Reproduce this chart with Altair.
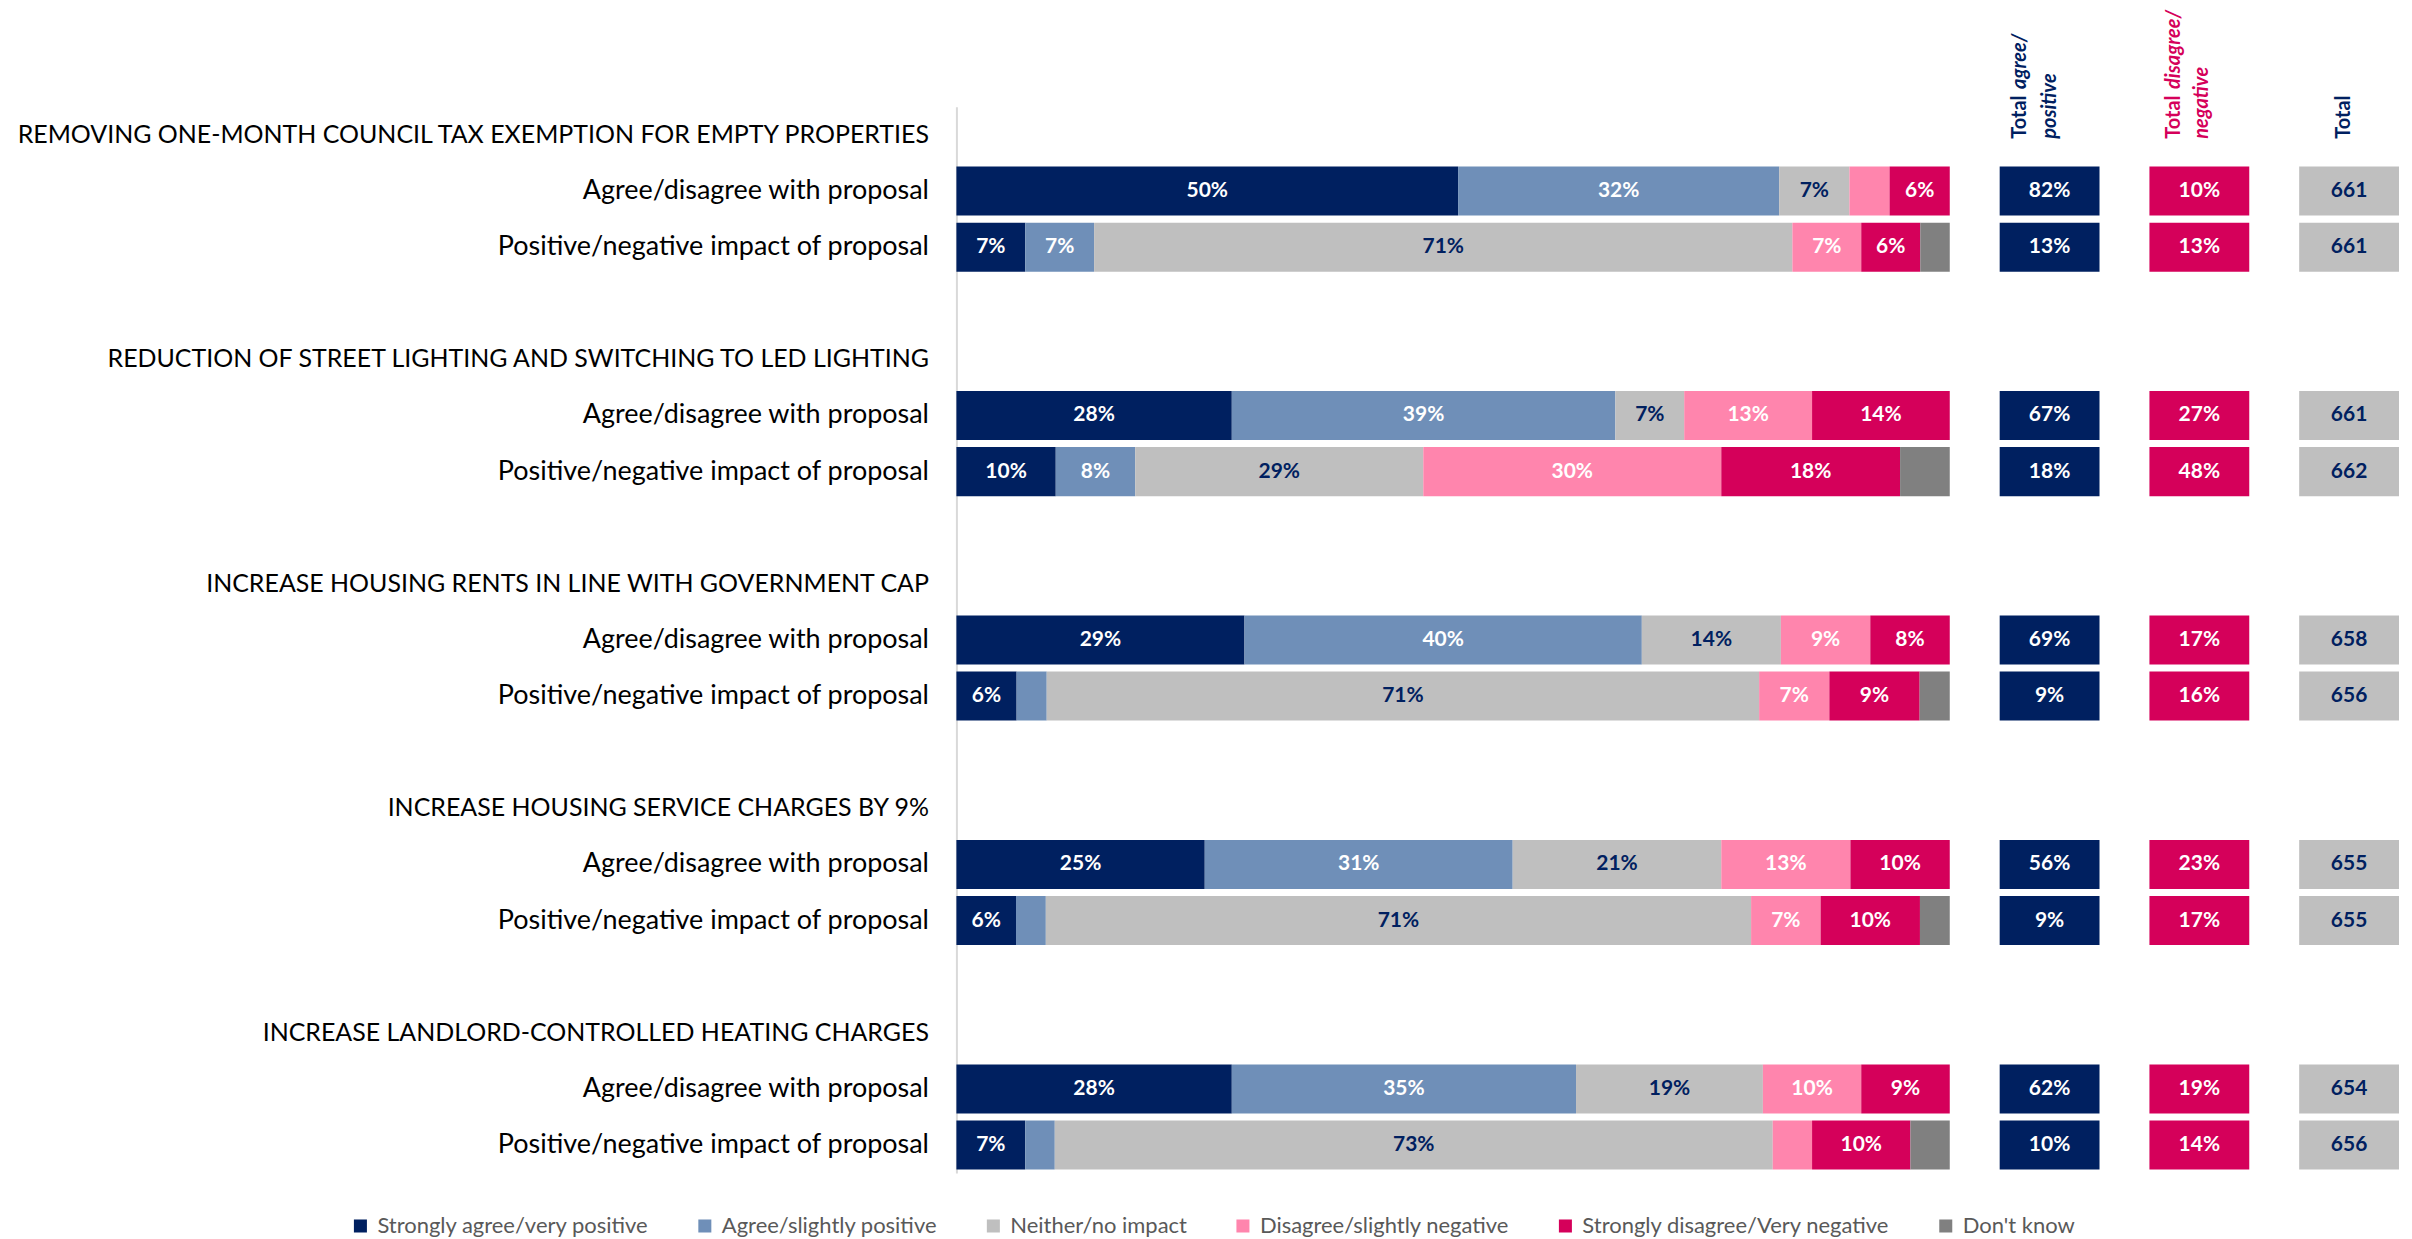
import altair as alt
import pandas as pd

groups = [
    "REMOVING ONE-MONTH COUNCIL TAX EXEMPTION FOR EMPTY PROPERTIES",
    "REDUCTION OF STREET LIGHTING AND SWITCHING TO LED LIGHTING",
    "INCREASE HOUSING RENTS IN LINE WITH GOVERNMENT CAP",
    "INCREASE HOUSING SERVICE CHARGES BY 9%",
    "INCREASE LANDLORD-CONTROLLED HEATING CHARGES",
]
measures = ["Agree/disagree with proposal", "Positive/negative impact of proposal"]
categories = [
    "Strongly agree/very positive",
    "Agree/slightly positive",
    "Neither/no impact",
    "Disagree/slightly negative",
    "Strongly disagree/Very negative",
    "Don't know",
]
colors = ["#002060", "#6F8FB8", "#BFBFBF", "#FF85AD", "#D5005A", "#808080"]

# one value per row: group1 agree, group1 impact, group2 agree, ...
strongly_agree = [50, 7, 28, 10, 29, 6, 25, 6, 28, 7]
agree = [32, 7, 39, 8, 40, 3, 31, 3, 35, 3]
neither = [7, 71, 7, 29, 14, 71, 21, 71, 19, 73]
disagree = [4, 7, 13, 30, 9, 7, 13, 7, 10, 4]
strongly_disagree = [6, 6, 14, 18, 8, 9, 10, 10, 9, 10]
dont_know = [0, 3, 0, 5, 0, 3, 0, 3, 0, 4]

total_agree = [82, 13, 67, 18, 69, 9, 56, 9, 62, 10]
total_disagree = [10, 13, 27, 48, 17, 16, 23, 17, 19, 14]
total_n = [661, 661, 661, 662, 658, 656, 655, 655, 654, 656]

header_total = "Total"
header_agree = ["agree/", "positive"]
header_disagree = ["disagree/", "negative"]

NAVY = "#002060"
CRIMSON = "#D5005A"
FONT = "Lato"

series = [strongly_agree, agree, neither, disagree, strongly_disagree, dont_know]

row_keys = []
row_order = []
for i, g in enumerate(groups):
    row_order.append(g)
    for m in measures:
        key = g + "|" + m
        row_keys.append(key)
        row_order.append(key)
    if i < len(groups) - 1:
        row_order.append("__blank%d" % i)

records = []
for k, key in enumerate(row_keys):
    for c, cat in enumerate(categories):
        records.append({"row": key, "category": cat, "order": c, "value": series[c][k]})
df = pd.DataFrame(records)

tot = pd.DataFrame({
    "row": row_keys,
    "agree": total_agree,
    "disagree": total_disagree,
    "n": total_n,
})

ROW_H = 1068
yscale = alt.Scale(domain=row_order, paddingInner=0.126, paddingOuter=0.063)

label_expr = ("indexof(datum.label,'|')>=0 ? split(datum.label,'|')[1] : "
              "(indexof(datum.label,'__blank')==0 ? '' : datum.label)")

y_axis = alt.Axis(
    title=None, labelExpr=label_expr, labelFont=FONT,
    labelFontSize={"condition": {"test": "indexof(datum.label,'|')>=0", "value": 27}, "value": 25},
    labelColor="#000000", labelPadding=28, ticks=False, domain=True,
    domainColor="#D9D9D9", domainWidth=2, labelLimit=1200,
)

base = (
    alt.Chart(df)
    .transform_joinaggregate(rowtotal="sum(value)", groupby=["row"])
    .transform_calculate(pct="datum.value / datum.rowtotal")
    .transform_stack(stack="pct", groupby=["row"], as_=["x0", "x1"],
                     sort=[alt.SortField("order", order="ascending")])
    .transform_calculate(xm="(datum.x0 + datum.x1) / 2")
)

bars = base.mark_bar().encode(
    x=alt.X("x0:Q", scale=alt.Scale(domain=[0, 1]), axis=None),
    x2="x1:Q",
    y=alt.Y("row:N", scale=yscale, axis=y_axis, sort=row_order),
    color=alt.Color(
        "category:N",
        scale=alt.Scale(domain=categories, range=colors),
        legend=alt.Legend(
            title=None, orient="none", direction="horizontal",
            legendX=-608, legendY=1110,
            symbolType="square", symbolSize=170, symbolStrokeWidth=0,
            labelFont=FONT, labelFontSize=22, labelColor="#595959",
            columnPadding=45, labelOffset=6, labelLimit=500,
        ),
    ),
    order=alt.Order("order:Q"),
)

labels = base.transform_filter(
    "datum.value >= 6 && datum.category != \"Don't know\""
).transform_calculate(lab="datum.value + '%'").mark_text(
    font=FONT, fontSize=21, fontWeight="bold", baseline="middle", align="center"
).encode(
    x=alt.X("xm:Q", scale=alt.Scale(domain=[0, 1]), axis=None),
    y=alt.Y("row:N", scale=yscale, axis=y_axis, sort=row_order),
    text="lab:N",
    color=alt.condition("datum.category == 'Neither/no impact'", alt.value(NAVY), alt.value("white")),
)

main = alt.layer(bars, labels).properties(width=995, height=ROW_H)


def box_panel(field, fill, txtcol, fmt_pct, headers):
    b = alt.Chart(tot).mark_bar(color=fill).encode(
        x=alt.value(0), x2=alt.value(100),
        y=alt.Y("row:N", scale=yscale, axis=None, sort=row_order),
    )
    expr = "datum.%s + '%%'" % field if fmt_pct else "'' + datum.%s" % field
    t = alt.Chart(tot).transform_calculate(lab=expr).mark_text(
        font=FONT, fontSize=21, fontWeight="bold", color=txtcol
    ).encode(
        x=alt.value(50),
        y=alt.Y("row:N", scale=yscale, axis=None, sort=row_order),
        text="lab:N",
    )
    layers = [b, t]
    for (txt, xx, yy, italic, col) in headers:
        hdf = pd.DataFrame({"t": [txt]})
        kw = dict(font=FONT, fontSize=20, fontWeight="bold", angle=270,
                  align="left", baseline="middle", color=col)
        if italic:
            kw["fontStyle"] = "italic"
        layers.append(
            alt.Chart(hdf).mark_text(**kw).encode(
                x=alt.value(xx), y=alt.value(yy), text="t:N"
            )
        )
    return alt.layer(*layers).properties(width=100, height=ROW_H)


p_agree = box_panel("agree", NAVY, "white", True, [
    (header_total, 20, 32, False, NAVY),
    (header_agree[0], 20, -18, True, NAVY),
    (header_agree[1], 50, 32, True, NAVY),
])
p_dis = box_panel("disagree", CRIMSON, "white", True, [
    (header_total, 25, 32, False, CRIMSON),
    (header_disagree[0], 25, -18, True, CRIMSON),
    (header_disagree[1], 53, 32, True, CRIMSON),
])
p_n = box_panel("n", "#BFBFBF", NAVY, False, [
    (header_total, 45, 32, False, NAVY),
])

chart = alt.hconcat(main, p_agree, p_dis, p_n, spacing=50).properties(
    padding={"left": 5, "top": 0, "right": 5, "bottom": 0}
).configure_view(stroke=None)

chart.save("out.html", embed_options={"renderer": "svg", "actions": False})
